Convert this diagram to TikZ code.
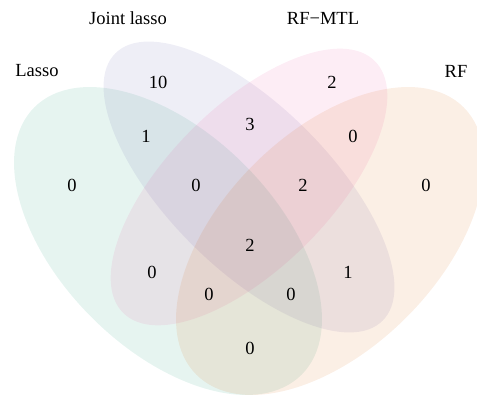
\documentclass[tikz,border=0pt]{standalone}
\usepackage{fontspec}
\setmainfont{Liberation Serif}
\definecolor{setA}{HTML}{1B9E77}
\definecolor{setB}{HTML}{7570B3}
\definecolor{setC}{HTML}{E7298A}
\definecolor{setD}{HTML}{D95F02}
\tikzset{
  setfill/.style 2 args={fill=#1, fill opacity=#2},
  lbl/.style={inner sep=0pt, font=\fontsize{18.5}{22}\selectfont},
}
\begin{document}
\begin{tikzpicture}[x=1pt,y=1pt]
\useasboundingbox (0,0) rectangle (477,398);
% four ellipses (y measured upward from the bottom edge)
\path[setfill={setA}{0.11}, rotate around={-45:(168,157)}] (168,157) ellipse [x radius=189, y radius=108];
\path[setfill={setB}{0.12}, rotate around={-45:(249,211)}] (249,211) ellipse [x radius=189, y radius=81];
\path[setfill={setC}{0.085}, rotate around={45:(249,211)}] (249,211) ellipse [x radius=178, y radius=81];
\path[setfill={setD}{0.1}, rotate around={45:(330,157)}] (330,157) ellipse [x radius=189, y radius=108];
% set names
\node[lbl] (nA) at (37,327) {Lasso};
\node[lbl] (nB) at (128,380) {Joint lasso};
\node[lbl] (nC) at (323,380) {RF−MTL};
\node[lbl] (nD) at (456,327) {RF};
% region counts
\node[lbl] (rB)    at (158,316) {10};
\node[lbl] (rC)    at (332,316) {2};
\node[lbl] (rAB)   at (146,262) {1};
\node[lbl] (rBC)   at (250,274) {3};
\node[lbl] (rCD)   at (353,262) {0};
\node[lbl] (rA)    at (72,213) {0};
\node[lbl] (rABC)  at (196,213) {0};
\node[lbl] (rBCD)  at (303,213) {2};
\node[lbl] (rD)    at (426,213) {0};
\node[lbl] (rABCD) at (250,153) {2};
\node[lbl] (rAC)   at (152,126) {0};
\node[lbl] (rBD)   at (348,126) {1};
\node[lbl] (rACD)  at (209,104) {0};
\node[lbl] (rABD)  at (291,104) {0};
\node[lbl] (rAD)   at (250,50) {0};
\end{tikzpicture}
\end{document}
